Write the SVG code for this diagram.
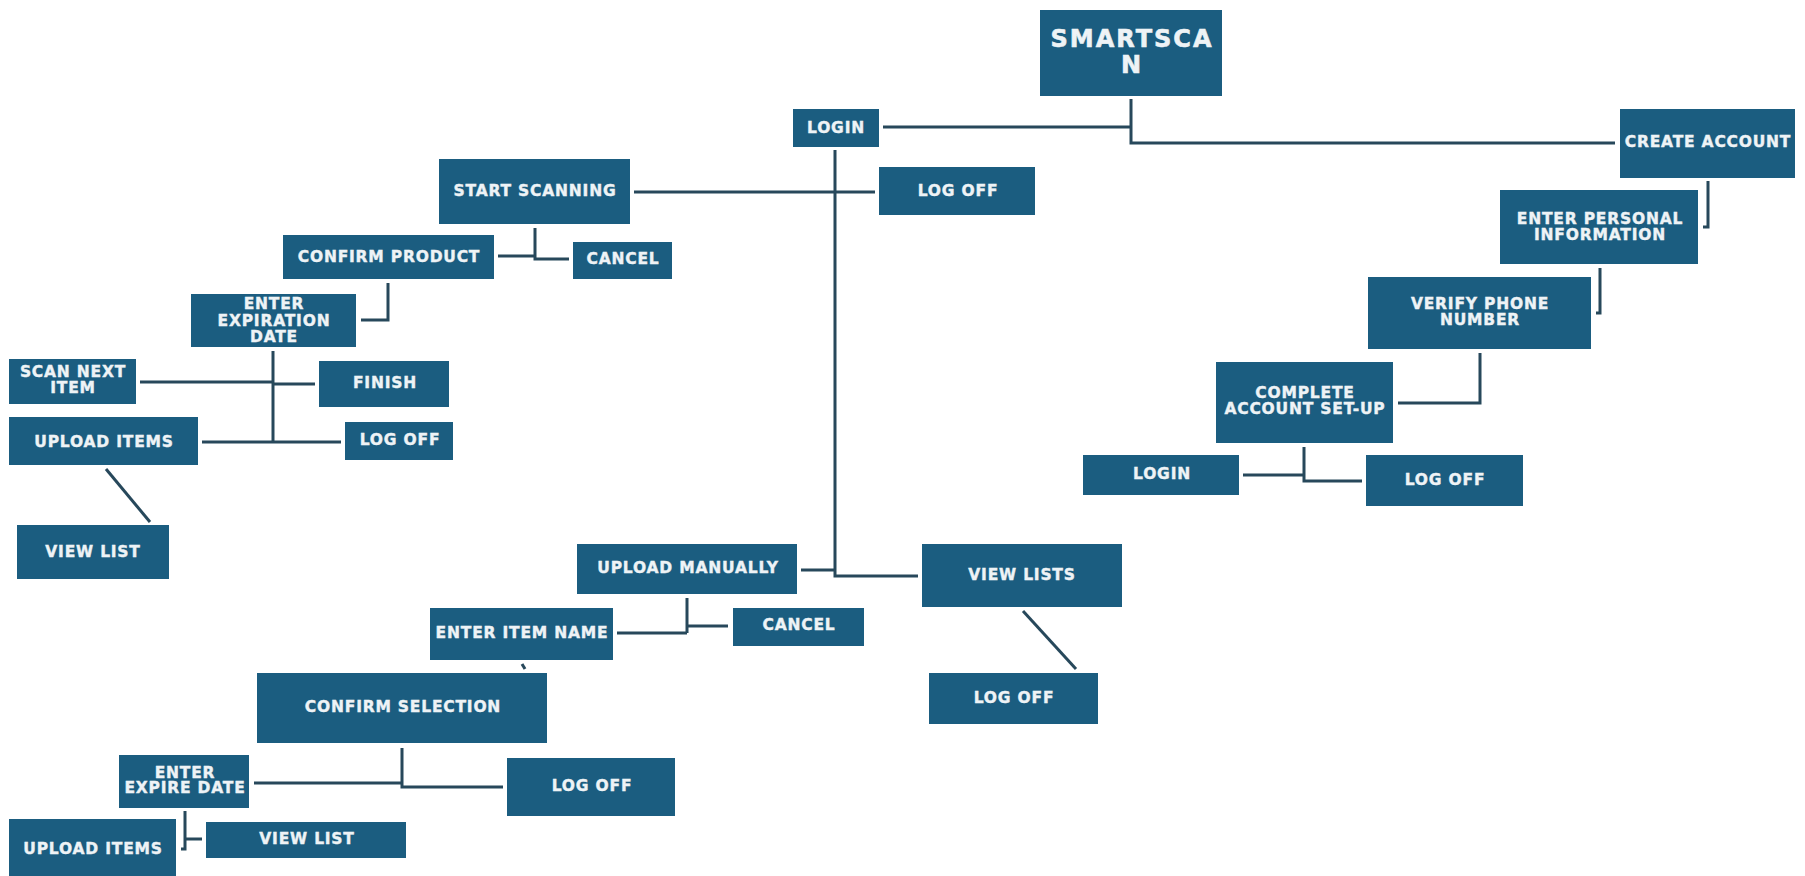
<svg xmlns="http://www.w3.org/2000/svg" width="1805" height="876" viewBox="0 0 1805 876">
<style>
  .box { fill: #1b5d80; }
  .t { font-family: "DejaVu Sans", "Liberation Sans", sans-serif; font-weight: bold; font-size: 15.5px; fill: #eef3f6; stroke: #eef3f6; stroke-width: 0.4; text-anchor: middle; letter-spacing: 0.8px; }
  .big { font-size: 24px; letter-spacing: 2px; stroke-width: 0.6; }
  .c { fill: none; stroke: #27485b; stroke-width: 3; }
</style>
<rect width="1805" height="876" fill="#ffffff"/>
<g id="connectors">
  <path class="c" d="M883,127 H1131"/>
  <path class="c" d="M1131,99 V143 H1615"/>
  <path class="c" d="M835,150 V576 H918"/>
  <path class="c" d="M801,570 H835"/>
  <path class="c" d="M634,192 H875"/>
  <path class="c" d="M535,228 V259 H569"/>
  <path class="c" d="M498,256 H535"/>
  <path class="c" d="M388,283 V320 H361"/>
  <path class="c" d="M273,351 V442"/>
  <path class="c" d="M140,382 H273"/>
  <path class="c" d="M273,384 H315"/>
  <path class="c" d="M202,442 H341"/>
  <path class="c" d="M106,469 L150,522"/>
  <path class="c" d="M1708,181 V227 H1703"/>
  <path class="c" d="M1600,268 V313 H1596"/>
  <path class="c" d="M1480,353 V403 H1398"/>
  <path class="c" d="M1304,447 V481 H1362"/>
  <path class="c" d="M1243,475 H1304"/>
  <path class="c" d="M687,598 V633"/>
  <path class="c" d="M617,633 H687"/>
  <path class="c" d="M687,626 H728"/>
  <path class="c" d="M522,664 L525,669"/>
  <path class="c" d="M1023,611 L1076,669"/>
  <path class="c" d="M402,748 V787 H503"/>
  <path class="c" d="M254,783 H402"/>
  <path class="c" d="M185,811 V849 H181"/>
  <path class="c" d="M185,839 H202"/>
</g>
<g id="smartscan"><rect class="box" x="1040" y="10" width="182" height="86"/><text class="t big" x="1132" y="47">SMARTSCA</text><text class="t big" x="1132" y="73">N</text></g>
<g id="login-top"><rect class="box" x="793" y="109" width="86" height="38"/><text class="t" x="836" y="132.5">LOGIN</text></g>
<g id="create-account"><rect class="box" x="1620" y="109" width="175" height="69"/><text class="t" x="1708" y="147">CREATE ACCOUNT</text></g>
<g id="logoff-top"><rect class="box" x="879" y="167" width="156" height="48"/><text class="t" x="958" y="195.5">LOG OFF</text></g>
<g id="start-scanning"><rect class="box" x="439" y="159" width="191" height="65"/><text class="t" x="535" y="196">START SCANNING</text></g>
<g id="confirm-product"><rect class="box" x="283" y="235" width="211" height="44"/><text class="t" x="389" y="262">CONFIRM PRODUCT</text></g>
<g id="cancel-top"><rect class="box" x="573" y="242" width="99" height="37"/><text class="t" x="623" y="264">CANCEL</text></g>
<g id="enter-expiration"><rect class="box" x="191" y="294" width="165" height="53"/><text class="t" x="274" y="309">ENTER</text><text class="t" x="274" y="325.5">EXPIRATION</text><text class="t" x="274" y="342">DATE</text></g>
<g id="scan-next"><rect class="box" x="9" y="359" width="127" height="45"/><text class="t" x="73" y="377">SCAN NEXT</text><text class="t" x="73" y="393">ITEM</text></g>
<g id="finish"><rect class="box" x="319" y="361" width="130" height="46"/><text class="t" x="385" y="388">FINISH</text></g>
<g id="upload-items-top"><rect class="box" x="9" y="417" width="189" height="48"/><text class="t" x="104" y="447">UPLOAD ITEMS</text></g>
<g id="logoff-left"><rect class="box" x="345" y="422" width="108" height="38"/><text class="t" x="400" y="445">LOG OFF</text></g>
<g id="view-list-top"><rect class="box" x="17" y="525" width="152" height="54"/><text class="t" x="93" y="557">VIEW LIST</text></g>
<g id="enter-personal"><rect class="box" x="1500" y="190" width="198" height="74"/><text class="t" x="1600" y="224">ENTER PERSONAL</text><text class="t" x="1600" y="239.5">INFORMATION</text></g>
<g id="verify-phone"><rect class="box" x="1368" y="277" width="223" height="72"/><text class="t" x="1480" y="309">VERIFY PHONE</text><text class="t" x="1480" y="324.5">NUMBER</text></g>
<g id="complete-setup"><rect class="box" x="1216" y="362" width="177" height="81"/><text class="t" x="1305" y="398">COMPLETE</text><text class="t" x="1305" y="414">ACCOUNT SET-UP</text></g>
<g id="login-right"><rect class="box" x="1083" y="455" width="156" height="40"/><text class="t" x="1162" y="479">LOGIN</text></g>
<g id="logoff-right"><rect class="box" x="1366" y="455" width="157" height="51"/><text class="t" x="1445" y="485">LOG OFF</text></g>
<g id="upload-manually"><rect class="box" x="577" y="544" width="220" height="50"/><text class="t" x="688" y="573">UPLOAD MANUALLY</text></g>
<g id="view-lists"><rect class="box" x="922" y="544" width="200" height="63"/><text class="t" x="1022" y="580">VIEW LISTS</text></g>
<g id="cancel-mid"><rect class="box" x="733" y="608" width="131" height="38"/><text class="t" x="799" y="630">CANCEL</text></g>
<g id="logoff-viewlists"><rect class="box" x="929" y="673" width="169" height="51"/><text class="t" x="1014" y="703">LOG OFF</text></g>
<g id="enter-item-name"><rect class="box" x="430" y="608" width="183" height="52"/><text class="t" x="522" y="638">ENTER ITEM NAME</text></g>
<g id="confirm-selection"><rect class="box" x="257" y="673" width="290" height="70"/><text class="t" x="403" y="712">CONFIRM SELECTION</text></g>
<g id="logoff-bottom"><rect class="box" x="507" y="758" width="168" height="58"/><text class="t" x="592" y="791">LOG OFF</text></g>
<g id="enter-expire"><rect class="box" x="119" y="755" width="130" height="53"/><text class="t" x="185" y="778">ENTER</text><text class="t" x="185" y="793">EXPIRE DATE</text></g>
<g id="view-list-bottom"><rect class="box" x="206" y="822" width="200" height="36"/><text class="t" x="307" y="844">VIEW LIST</text></g>
<g id="upload-items-bottom"><rect class="box" x="9" y="819" width="167" height="57"/><text class="t" x="93" y="854">UPLOAD ITEMS</text></g>
</svg>
